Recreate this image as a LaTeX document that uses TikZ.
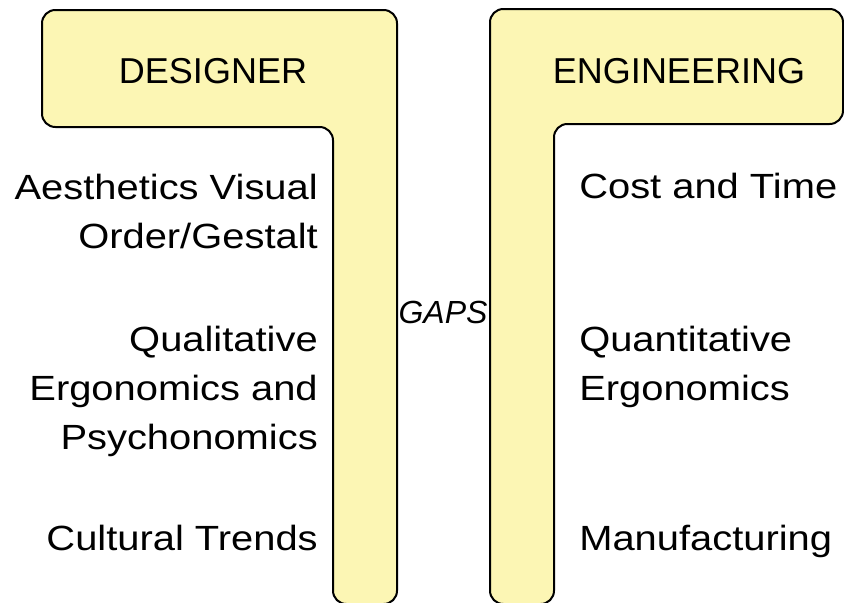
\documentclass[tikz,border=0pt]{standalone}
\usepackage{fontspec}
\setmainfont{Liberation Sans}
\newfontfamily\bodyfont{Liberation Sans}[FakeStretch=1.14]
\definecolor{padyellow}{RGB}{252,246,180}
\begin{document}
\begin{tikzpicture}[x=0.75pt,y=-0.75pt,
  panel/.style={draw=black, line width=1.5pt, fill=padyellow,
    rounded corners=10pt, line join=round},
  heading/.style={font=\fontsize{27}{32}\selectfont, inner sep=0pt, anchor=base},
  itembase/.style={font=\bodyfont\fontsize{26.25}{36.75}\selectfont, inner sep=0pt},
  itemleft/.style={itembase, align=right, anchor=base east},
  itemright/.style={itembase, align=left, anchor=base west},
  gaplabel/.style={font=\itshape\fontsize{24}{28}\selectfont, inner sep=0pt, anchor=base}]
\useasboundingbox (0,0) rectangle (844,603);

% left L-shaped panel
\draw[panel] (42,10) -- (397,10) -- (397,604) -- (333,604) -- (333,127)
  -- (42,127) -- cycle;
% right L-shaped panel
\draw[panel] (490,9) -- (843,9) -- (843,124) -- (554,124) -- (554,604)
  -- (490,604) -- cycle;

\node[heading] (designer) at (213,83) {DESIGNER};
\node[heading] (engineering) at (679,83) {ENGINEERING};

\node[gaplabel] (gaps) at (443,323) {GAPS};

% multi-line labels are placed by the baseline of their last line
\node[itemleft] (aesthetics) at (318,248) {Aesthetics Visual\\Order/Gestalt};
\node[itemleft] (qualitative) at (318,449) {Qualitative\\Ergonomics and\\Psychonomics};
\node[itemleft] (cultural) at (318,550) {Cultural Trends};

\node[itemright] (cost) at (579,198) {Cost and Time};
\node[itemright] (quantitative) at (579,400) {Quantitative\\Ergonomics};
\node[itemright] (manufacturing) at (579,550) {Manufacturing};
\end{tikzpicture}
\end{document}
